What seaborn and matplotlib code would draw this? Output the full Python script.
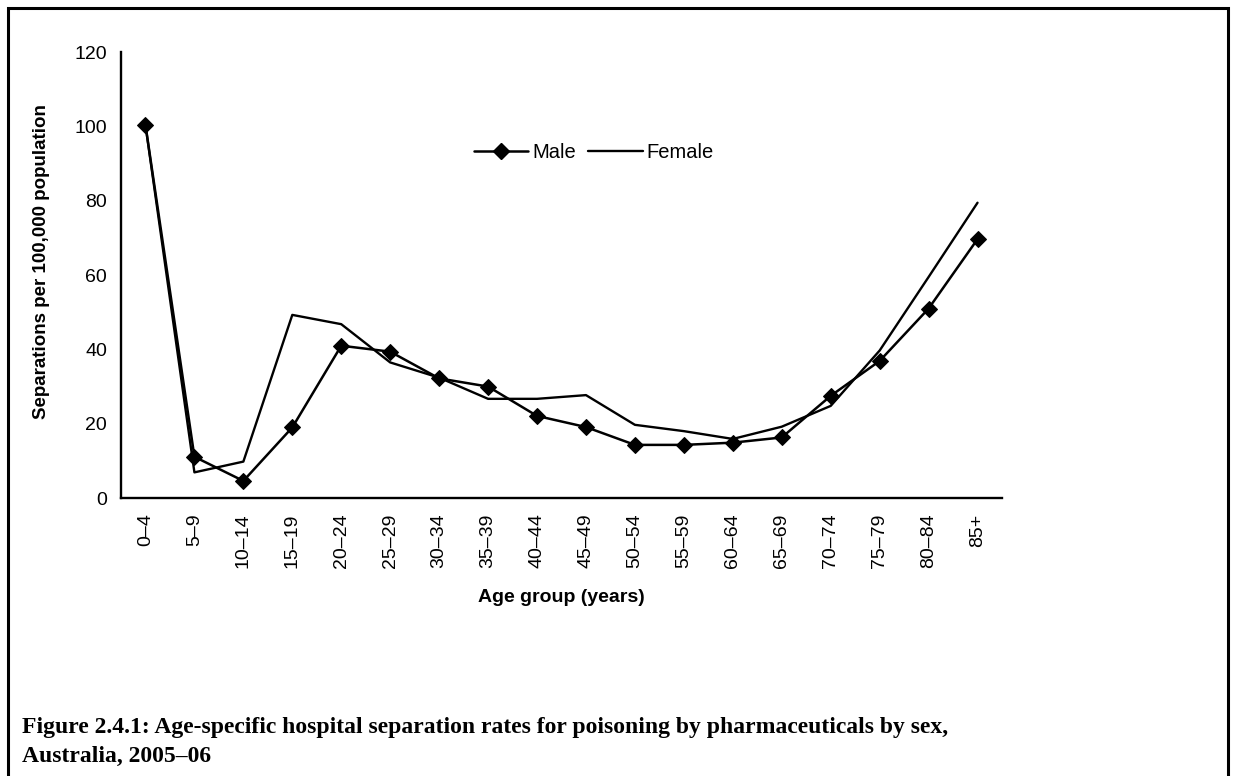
import matplotlib
matplotlib.use("Agg")
import matplotlib.pyplot as plt
import seaborn as sns
import pandas as pd
import numpy as np
from matplotlib.lines import Line2D
from matplotlib.patches import Rectangle

age_groups = ["0–4", "5–9", "10–14", "15–19", "20–24", "25–29", "30–34", "35–39",
              "40–44", "45–49", "50–54", "55–59", "60–64", "65–69", "70–74",
              "75–79", "80–84", "85+"]
male = [100.4, 11.1, 4.6, 19.0, 41.0, 39.4, 32.2, 30.0, 22.1, 19.1,
        14.3, 14.3, 14.9, 16.3, 27.5, 36.9, 51.0, 69.7]
female = [100.4, 6.9, 9.8, 49.3, 46.8, 36.5, 32.4, 26.7, 26.7, 27.7,
          19.7, 18.0, 15.9, 19.2, 24.8, 39.7, 59.5, 79.5]
y_ticks = [0, 20, 40, 60, 80, 100, 120]
x_label = "Age group (years)"
y_label = "Separations per 100,000 population"
caption_lines = ["Figure 2.4.1: Age-specific hospital separation rates for poisoning by pharmaceuticals by sex,",
                 "Australia, 2005–06"]

sns.set_theme(style="white")
plt.rcParams['font.family'] = ['Liberation Sans', 'DejaVu Sans']
plt.rcParams.update({"text.color": "black", "axes.labelcolor": "black",
                     "xtick.color": "black", "ytick.color": "black"})

df_m = pd.DataFrame({"age": age_groups, "rate": male})
df_f = pd.DataFrame({"age": age_groups, "rate": female})

W, H = 1235, 776
fig = plt.figure(figsize=(W / 100, H / 100), dpi=100)
fig.patch.set_facecolor("white")
ax_left, ax_right, ax_bottom, ax_top = 121, 1002, 498, 52.3
ax = fig.add_axes([ax_left / W, 1 - ax_bottom / H, (ax_right - ax_left) / W, (ax_bottom - ax_top) / H])

sns.lineplot(data=df_f, x="age", y="rate", ax=ax, color="black", linewidth=1.7,
             sort=False, legend=False)
sns.lineplot(data=df_m, x="age", y="rate", ax=ax, color="black", linewidth=1.8,
             marker="D", markersize=8.5, markeredgecolor="black", markerfacecolor="black",
             sort=False, legend=False)

ax.set_xlim(-0.5, len(age_groups) - 0.5)
ax.set_ylim(0, 120)
ax.set_yticks(y_ticks)
ax.set_yticklabels([str(v) for v in y_ticks], fontsize=14, color="black")
ax.set_xticks(range(len(age_groups)))
ax.set_xticklabels(age_groups, rotation=90, fontsize=14, color="black")
ax.set_xticks(np.arange(-0.5, len(age_groups), 1.0), minor=True)
ax.tick_params(axis="x", which="major", length=0, pad=11)
ax.tick_params(axis="x", which="minor", length=4, width=1.4, direction="out", color="black")
ax.tick_params(axis="y", which="major", length=4, width=1.4, direction="out", color="black", pad=6)

for s in ["top", "right"]:
    ax.spines[s].set_visible(False)
for s in ["left", "bottom"]:
    ax.spines[s].set_color("black")
    ax.spines[s].set_linewidth(1.7)

ax.set_xlabel(x_label, fontsize=14, fontweight="bold", color="black")
ax.set_ylabel(y_label, fontsize=13.5, fontweight="bold", color="black")
ax.xaxis.set_label_coords((561 - ax_left) / (ax_right - ax_left), -(597 - ax_bottom) / (ax_bottom - ax_top))
ax.yaxis.set_label_coords((42 - ax_left) / (ax_right - ax_left), (ax_bottom - 262) / (ax_bottom - ax_top))
ax.xaxis.label.set_va("center")
ax.yaxis.label.set_va("center")

handles = [
    Line2D([0], [0], color="black", linewidth=1.8, marker="D", markersize=8.5),
    Line2D([0], [0], color="black", linewidth=1.7),
]
ax.legend(handles, ["Male", "Female"], loc="center",
          bbox_to_anchor=((594 - ax_left) / (ax_right - ax_left), (ax_bottom - 153) / (ax_bottom - ax_top)),
          ncol=2, frameon=False, fontsize=14.5, handlelength=2.7, handletextpad=0.2,
          columnspacing=0.6)

for line, base_y in zip(caption_lines, [733, 762]):
    fig.text(22 / W, 1 - base_y / H, line, fontsize=17, fontweight="bold",
             family=["Liberation Serif", "DejaVu Serif"], ha="left", va="baseline",
             color="black")

frame = Rectangle((8 / W, -0.05), (1228 - 8) / W, 1.05 - 8 / H, transform=fig.transFigure,
                  fill=False, edgecolor="black", linewidth=2.2)
fig.patches.append(frame)

fig.savefig("out.png", dpi=100, facecolor="white")
